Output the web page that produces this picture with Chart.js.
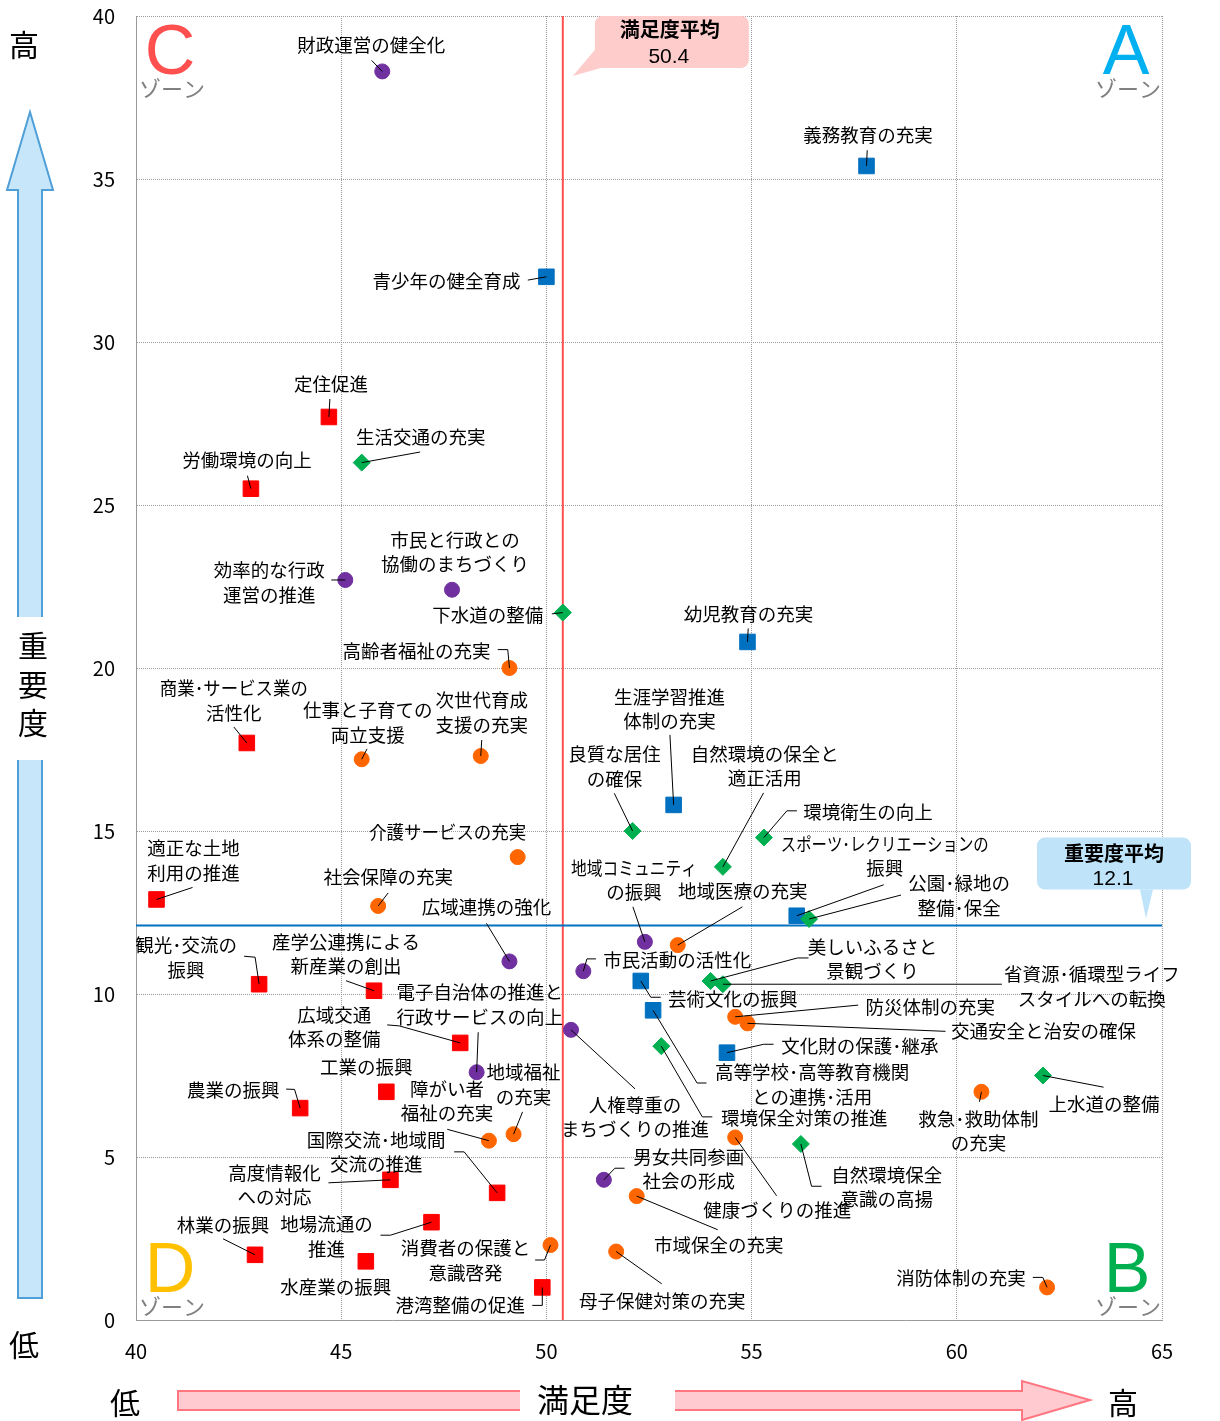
<!DOCTYPE html>
<html lang="ja">
<head>
<meta charset="utf-8">
<title>重要度・満足度</title>
<script src="https://cdn.jsdelivr.net/npm/chart.js"></script>
<style>
  html, body { margin: 0; padding: 0; background: #fff; }
  #wrap { width: 1220px; height: 1421px; }
</style>
</head>
<body>
<div id="wrap"><canvas id="myChart" width="1220" height="1421"></canvas></div>
<script>
// ---- data: 満足度 (x) / 重要度 (y) ----
const xMin = 40, xMax = 65, xStep = 5;
const yMin = 0, yMax = 40, yStep = 5;
const satisfactionAvg = 50.4;
const importanceAvg = 12.1;

// red squares
const redNames = ['定住促進', '労働環境の向上', '商業･サービス業の\n活性化', '適正な土地\n利用の推進', '観光･交流の\n振興',
  '産学公連携による\n新産業の創出', '広域交通\n体系の整備', '工業の振興', '農業の振興', '高度情報化\nへの対応',
  '国際交流･地域間\n交流の推進', '地場流通の\n推進', '林業の振興', '水産業の振興', '港湾整備の促進'];
const redSatisfaction = [44.7, 42.8, 42.7, 40.5, 43.0, 45.8, 47.9, 46.1, 44.0, 46.2, 48.8, 47.2, 42.9, 45.6, 49.9];
const redImportance = [27.7, 25.5, 17.7, 12.9, 10.3, 10.1, 8.5, 7.0, 6.5, 4.3, 3.9, 3.0, 2.0, 1.8, 1.0];

// purple circles
const purpleNames = ['財政運営の健全化', '効率的な行政\n運営の推進', '市民と行政との\n協働のまちづくり', '広域連携の強化',
  '地域コミュニティ\nの振興', '市民活動の活性化', '人権尊重の\nまちづくりの推進', '電子自治体の推進と\n行政サービスの向上',
  '男女共同参画\n社会の形成'];
const purpleSatisfaction = [46.0, 45.1, 47.7, 49.1, 52.4, 50.9, 50.6, 48.3, 51.4];
const purpleImportance = [38.3, 22.7, 22.4, 11.0, 11.6, 10.7, 8.9, 7.6, 4.3];

// orange circles
const orangeNames = ['高齢者福祉の充実', '仕事と子育ての\n両立支援', '次世代育成\n支援の充実', '介護サービスの充実',
  '社会保障の充実', '地域医療の充実', '防災体制の充実', '交通安全と治安の確保', '障がい者\n福祉の充実',
  '地域福祉\nの充実', '健康づくりの推進', '市域保全の充実', '消費者の保護と\n意識啓発', '母子保健対策の充実',
  '救急･救助体制\nの充実', '消防体制の充実'];
const orangeSatisfaction = [49.1, 45.5, 48.4, 49.3, 45.9, 53.2, 54.6, 54.9, 48.6, 49.2, 54.6, 52.2, 50.1, 51.7, 60.6, 62.2];
const orangeImportance = [20.0, 17.2, 17.3, 14.2, 12.7, 11.5, 9.3, 9.1, 5.5, 5.7, 5.6, 3.8, 2.3, 2.1, 7.0, 1.0];

// green diamonds
const greenNames = ['生活交通の充実', '下水道の整備', '良質な居住\nの確保', '自然環境の保全と\n適正活用', '環境衛生の向上',
  '公園･緑地の\n整備･保全', '美しいふるさと\n景観づくり', '省資源･循環型ライフ\nスタイルへの転換', '環境保全対策の推進',
  '自然環境保全\n意識の高揚', '上水道の整備'];
const greenSatisfaction = [45.5, 50.4, 52.1, 54.3, 55.3, 56.4, 54.0, 54.3, 52.8, 56.2, 62.1];
const greenImportance = [26.3, 21.7, 15.0, 13.9, 14.8, 12.3, 10.4, 10.3, 8.4, 5.4, 7.5];

// blue squares
const blueNames = ['義務教育の充実', '青少年の健全育成', '幼児教育の充実', '生涯学習推進\n体制の充実',
  'スポーツ･レクリエーションの\n振興', '芸術文化の振興', '高等学校･高等教育機関\nとの連携･活用', '文化財の保護･継承'];
const blueSatisfaction = [57.8, 50.0, 54.9, 53.1, 56.1, 52.3, 52.6, 54.4];
const blueImportance = [35.4, 32.0, 20.8, 15.8, 12.4, 10.4, 9.5, 8.2];

// ---- label placement: [dx, dy of first line, leader polyline, max width of first line] in px from the point ----
const labelLayout = {
  '定住促進': [2, -33, [[1, -18], [0, 0]]],
  '労働環境の向上': [-4, -29, [[-3.5, -13], [0, 0]]],
  '商業･サービス業の\n活性化': [-13, -55, [[-13, -16], [0, 0]], 148],
  '適正な土地\n利用の推進': [37, -51, [[36, -12], [0, 0]]],
  '観光･交流の\n振興': [-73, -39, [[-15, -28], [-4, -27], [0, 0]]],
  '産学公連携による\n新産業の創出': [-28, -49, [[-28, -10], [0, 0]]],
  '広域交通\n体系の整備': [-126, -28, [[-73, -18], [-61, -17], [0, 0]]],
  '工業の振興': [-20, -25, null],
  '農業の振興': [-67, -18, [[-14, -19], [-5.6, -18.7], [0, 0]]],
  '高度情報化\nへの対応': [-116, -7, [[-62, 3], [0, 0]]],
  '国際交流･地域間\n交流の推進': [-121, -53, [[-43, -41], [-33, -41], [0, 0]]],
  '地場流通の\n推進': [-105, 2, [[-51, 13], [-41, 13], [0, 0]]],
  '林業の振興': [-32, -30, [[-32, -16], [0, 0]]],
  '水産業の振興': [-30, 26, null],
  '港湾整備の促進': [-82, 18, [[-10, 18], [0, 18], [0, 0]]],

  '財政運営の健全化': [-11, -26, [[-10.6, -11], [0, 0]]],
  '効率的な行政\n運営の推進': [-76, -10, [[-14, 0], [0, 0]]],
  '市民と行政との\n協働のまちづくり': [3, -50, null],
  '広域連携の強化': [-23, -54, [[-23, -38], [0, 0]]],
  '地域コミュニティ\nの振興': [-11, -74, [[-12, -35], [0, 0]], 126],
  '市民活動の活性化': [94, -11, [[12.6, -12.3], [3.6, -12.3], [0, 0]]],
  '人権尊重の\nまちづくりの推進': [64, 75, [[64, 59], [0, 0]]],
  '電子自治体の推進と\n行政サービスの向上': [3, -80, [[1.6, -40], [0, 0]]],
  '男女共同参画\n社会の形成': [85, -23, [[20.7, -11.6], [11, -11.6], [0, 0]]],

  '高齢者福祉の充実': [-93, -17, [[-11.7, -18.4], [-1.7, -18.4], [0, 0]]],
  '仕事と子育ての\n両立支援': [6, -49, [[5.3, -10.4], [0, 0]]],
  '次世代育成\n支援の充実': [1, -56, [[1, -16], [0, 0]]],
  '介護サービスの充実': [-70, -25, null, 157],
  '社会保障の充実': [10, -29, [[10, -13], [0, 0]]],
  '地域医療の充実': [65, -54, [[64.7, -38.3], [0, 0]]],
  '防災体制の充実': [195, -10, [[123, -11.7], [0, 0]]],
  '交通安全と治安の確保': [296, 8, [[198, 8], [0, 0]]],
  '障がい者\n福祉の充実': [-42, -52, [[-41.7, -11.4], [0, 0]]],
  '地域福祉\nの充実': [10, -62, [[9, -22.3], [0, 0]]],
  '健康づくりの推進': [42, 73, [[41.4, 58.3], [0, 0]]],
  '市域保全の充実': [82, 49, [[81, 33.6], [0, 0]]],
  '消費者の保護と\n意識啓発': [-85, 3, [[-15.4, 15], [-6, 15], [0, 0]]],
  '母子保健対策の充実': [46, 49, [[45.6, 32.3], [0, 0]]],
  '救急･救助体制\nの充実': [-3, 27, [[-2, 10], [0, 0]]],
  '消防体制の充実': [-86, -9, [[-14.3, -10], [-4.3, -10], [0, 0]]],

  '生活交通の充実': [59, -26, [[58.4, -10.6], [0, 0]]],
  '下水道の整備': [-75, 2, [[-11, 1.3], [0, 0]]],
  '良質な居住\nの確保': [-18, -77, [[-18.3, -37.7], [0, 0]]],
  '自然環境の保全と\n適正活用': [42, -113, [[40.7, -74], [0, 0]]],
  '環境衛生の向上': [104, -26, [[33, -26.7], [23, -26.7], [0, 0]]],
  '公園･緑地の\n整備･保全': [150, -36, [[92, -24], [0, 0]]],
  '美しいふるさと\n景観づくり': [162, -34, [[98, -23], [87, -23], [0, 0]]],
  '省資源･循環型ライフ\nスタイルへの転換': [369, -10, [[279, 0], [0, 0]]],
  '環境保全対策の推進': [143, 72, [[51, 70.7], [41, 70.7], [0, 0]]],
  '自然環境保全\n意識の高揚': [86, 31, [[20.7, 42.3], [10.7, 42.3], [0, 0]]],
  '上水道の整備': [61, 28, [[60.6, 11.7], [0, 0]]],

  '義務教育の充実': [1.5, -31, [[0.7, -15.7], [0, 0]]],
  '青少年の健全育成': [-100, 4, [[-18.6, 3.3], [0, 0]]],
  '幼児教育の充実': [1, -28, [[0.7, -13.4], [0, 0]]],
  '生涯学習推進\n体制の充実': [-4, -108, [[-3.7, -70], [0, 0]]],
  'スポーツ･レクリエーションの\n振興': [88, -72, [[87, -31], [0, 0]], 208],
  '芸術文化の振興': [92, 18, [[20, 16.3], [10, 16.3], [0, 0]]],
  '高等学校･高等教育機関\nとの連携･活用': [159, 62, [[53.4, 72.7], [44, 72.7], [0, 0]]],
  '文化財の保護･継承': [133, -7, [[46.6, -8.4], [36.6, -8.4], [0, 0]]]
};

const FONT = '"Noto Sans CJK JP", "Noto Sans", sans-serif';
const LINE_GAP = 24.5;

function makeSeries(label, names, xs, ys, color, style, radius) {
  return {
    label: label,
    data: names.map((name, i) => ({x: xs[i], y: ys[i], name: name})),
    backgroundColor: color,
    borderColor: color,
    borderWidth: 1,
    pointStyle: style,
    pointRadius: radius,
    pointHoverRadius: radius
  };
}

function callout(ctx, x, y, w, h, tail, fill) {
  ctx.save();
  ctx.fillStyle = fill;
  ctx.beginPath();
  ctx.roundRect(x, y, w, h, 8);
  ctx.fill();
  ctx.beginPath();
  ctx.moveTo(tail[0][0], tail[0][1]);
  ctx.lineTo(tail[1][0], tail[1][1]);
  ctx.lineTo(tail[2][0], tail[2][1]);
  ctx.closePath();
  ctx.fill();
  ctx.restore();
}

function drawArrowV(ctx) {
  ctx.save();
  ctx.fillStyle = '#c8e6fa';
  ctx.strokeStyle = '#4f9fd8';
  ctx.lineWidth = 2;
  ctx.beginPath();
  ctx.moveTo(30, 112);
  ctx.lineTo(53, 190);
  ctx.lineTo(42, 190);
  ctx.lineTo(42, 1298);
  ctx.lineTo(18, 1298);
  ctx.lineTo(18, 190);
  ctx.lineTo(7, 190);
  ctx.closePath();
  ctx.fill();
  ctx.stroke();
  ctx.fillStyle = '#fff';
  ctx.fillRect(5, 617, 52, 143);
  ctx.restore();
}

function drawArrowH(ctx) {
  ctx.save();
  ctx.fillStyle = '#ffcad0';
  ctx.strokeStyle = '#ff7580';
  ctx.lineWidth = 2;
  ctx.beginPath();
  ctx.moveTo(178, 1391);
  ctx.lineTo(1022, 1391);
  ctx.lineTo(1022, 1381);
  ctx.lineTo(1090, 1400);
  ctx.lineTo(1022, 1420);
  ctx.lineTo(1022, 1410);
  ctx.lineTo(178, 1410);
  ctx.closePath();
  ctx.fill();
  ctx.stroke();
  ctx.fillStyle = '#fff';
  ctx.fillRect(520, 1378, 155, 43);
  ctx.restore();
}

const decorPlugin = {
  id: 'decor',
  beforeDatasetsDraw(chart) {
    const {ctx, chartArea, scales} = chart;
    const ax = scales.x.getPixelForValue(satisfactionAvg);
    const ay = scales.y.getPixelForValue(importanceAvg);
    ctx.save();
    ctx.lineWidth = 2;
    ctx.strokeStyle = '#ff4f4f';
    ctx.beginPath();
    ctx.moveTo(ax, chartArea.top);
    ctx.lineTo(ax, chartArea.bottom);
    ctx.stroke();
    ctx.strokeStyle = '#0070c0';
    ctx.beginPath();
    ctx.moveTo(chartArea.left, ay);
    ctx.lineTo(chartArea.right, ay);
    ctx.stroke();
    ctx.restore();
  },
  afterDatasetsDraw(chart) {
    const {ctx, chartArea, scales} = chart;
    const ax = scales.x.getPixelForValue(satisfactionAvg);
    const ay = scales.y.getPixelForValue(importanceAvg);

    // point labels and leader lines
    ctx.save();
    ctx.font = '18.5px ' + FONT;
    ctx.fillStyle = '#000';
    ctx.strokeStyle = '#000';
    ctx.lineWidth = 1;
    ctx.textAlign = 'center';
    ctx.textBaseline = 'middle';
    chart.data.datasets.forEach((ds, di) => {
      const meta = chart.getDatasetMeta(di);
      ds.data.forEach((pt, i) => {
        const el = meta.data[i];
        const lay = labelLayout[pt.name];
        if (!lay) { return; }
        const [dx, dy, lead, fit] = lay;
        if (lead) {
          ctx.beginPath();
          lead.forEach(([lx, ly], k) => {
            if (k === 0) { ctx.moveTo(el.x + lx, el.y + ly); } else { ctx.lineTo(el.x + lx, el.y + ly); }
          });
          ctx.stroke();
        }
        pt.name.split('\n').forEach((line, k) => {
          if (k === 0 && fit) {
            ctx.fillText(line, el.x + dx, el.y + dy, fit);
          } else {
            ctx.fillText(line, el.x + dx, el.y + dy + k * LINE_GAP);
          }
        });
      });
    });
    ctx.restore();

    // average callouts
    const bx = ax + 32, by = chartArea.top;
    callout(ctx, bx, by, 154, 52, [[bx, by + 34], [ax + 10, by + 60], [bx + 6, by + 52]], '#ffcccc');
    const rx = chartArea.right - 125, ry = ay - 88;
    callout(ctx, rx, ry, 154, 52, [[rx + 103, ry + 52], [rx + 109, ay - 7], [rx + 116, ry + 52]], '#bfe4fa');
    ctx.save();
    ctx.fillStyle = '#000';
    ctx.textAlign = 'center';
    ctx.textBaseline = 'middle';
    ctx.font = 'bold 20px ' + FONT;
    ctx.fillText('満足度平均', bx + 75, by + 13);
    ctx.fillText('重要度平均', rx + 77, ry + 16);
    ctx.font = '21px "Liberation Sans Narrow", "Liberation Sans", Arial, sans-serif';
    ctx.fillText('50.4', bx + 74, by + 41);
    ctx.fillText('12.1', rx + 76, ry + 42);
    ctx.restore();

    // zone letters
    ctx.save();
    ctx.textAlign = 'center';
    ctx.textBaseline = 'alphabetic';
    ctx.font = '70px "Liberation Sans", Arial, sans-serif';
    ctx.fillStyle = '#ff5050';
    ctx.fillText('C', chartArea.left + 34, chartArea.top + 58);
    ctx.fillStyle = '#00b0f0';
    ctx.fillText('A', chartArea.right - 36, chartArea.top + 58);
    ctx.fillStyle = '#ffc000';
    ctx.fillText('D', chartArea.left + 34, chartArea.bottom - 28);
    ctx.fillStyle = '#00b050';
    ctx.fillText('B', chartArea.right - 35, chartArea.bottom - 28);
    ctx.font = '22px ' + FONT;
    ctx.fillStyle = '#808080';
    ctx.textBaseline = 'middle';
    ctx.fillText('ゾーン', chartArea.left + 36, chartArea.top + 73);
    ctx.fillText('ゾーン', chartArea.right - 34, chartArea.top + 73);
    ctx.fillText('ゾーン', chartArea.left + 36, chartArea.bottom - 13);
    ctx.fillText('ゾーン', chartArea.right - 34, chartArea.bottom - 13);
    ctx.restore();
  },
  afterDraw(chart) {
    const ctx = chart.ctx;
    drawArrowV(ctx);
    drawArrowH(ctx);
    ctx.save();
    ctx.fillStyle = '#000';
    ctx.textAlign = 'center';
    ctx.textBaseline = 'middle';
    ctx.font = '30px ' + FONT;
    ctx.fillText('高', 24, 45);
    ctx.fillText('低', 24, 1345);
    ctx.fillText('低', 125, 1403);
    ctx.fillText('高', 1123, 1403);
    ['重', '要', '度'].forEach((ch, k) => ctx.fillText(ch, 33, 646 + k * 38.5));
    ctx.font = '32px ' + FONT;
    ctx.fillText('満足度', 585, 1400);
    ctx.restore();
  }
};

const gridOpts = {color: '#9a9a9a', lineWidth: 1, drawTicks: false};
const borderOpts = {display: true, color: '#9a9a9a', dash: [1, 1]};

const chart = new Chart(document.getElementById('myChart'), {
  type: 'scatter',
  data: {
    datasets: [
      makeSeries('industry', redNames, redSatisfaction, redImportance, '#ff0000', 'rect', 11),
      makeSeries('administration', purpleNames, purpleSatisfaction, purpleImportance, '#7030a0', 'circle', 7.5),
      makeSeries('welfare', orangeNames, orangeSatisfaction, orangeImportance, '#ff6600', 'circle', 7.5),
      makeSeries('environment', greenNames, greenSatisfaction, greenImportance, '#00b050', 'rectRot', 8.5),
      makeSeries('education', blueNames, blueSatisfaction, blueImportance, '#0070c0', 'rect', 11)
    ]
  },
  options: {
    responsive: false,
    devicePixelRatio: 1,
    animation: false,
    events: [],
    layout: {padding: {left: 0, top: 16, right: 58, bottom: 0}},
    plugins: {legend: {display: false}, tooltip: {enabled: false}},
    scales: {
      x: {
        type: 'linear',
        min: xMin,
        max: xMax,
        ticks: {stepSize: xStep, padding: 19, color: '#000', font: {size: 20, family: FONT}},
        grid: gridOpts,
        border: borderOpts,
        afterFit: (scale) => {
          scale.height = 101;
          scale.paddingLeft = 0;
          scale.paddingRight = 0;
        }
      },
      y: {
        type: 'linear',
        min: yMin,
        max: yMax,
        ticks: {stepSize: yStep, padding: 21, color: '#000', font: {size: 20, family: FONT}},
        grid: gridOpts,
        border: borderOpts,
        afterFit: (scale) => {
          scale.width = 136;
          scale.paddingTop = 0;
          scale.paddingBottom = 0;
        }
      }
    }
  },
  plugins: [decorPlugin]
});
</script>
</body>
</html>
